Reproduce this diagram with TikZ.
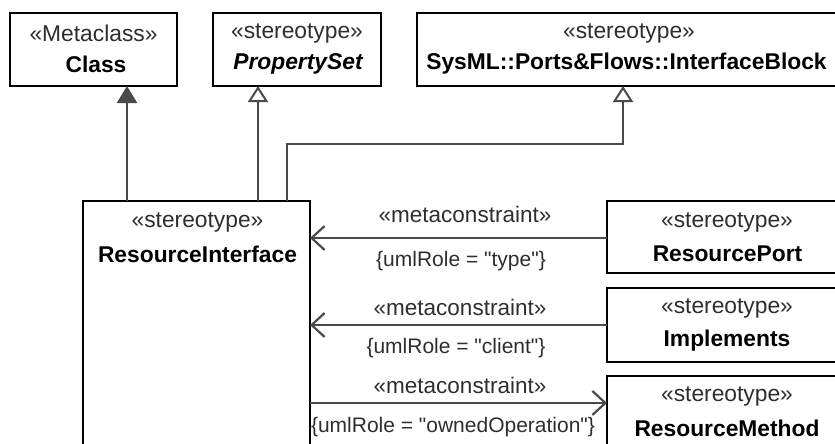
\documentclass[tikz,border=0pt]{standalone}
\usepackage{fontspec}
\setmainfont{Liberation Sans}[Ligatures=TeXOff]
\usetikzlibrary{arrows.meta}
\definecolor{lin}{HTML}{4A4A4A}
\definecolor{txt}{HTML}{2E2E2E}
\begin{document}
\begin{tikzpicture}[x=1pt,y=-1pt,
  box/.style={draw=black,line width=2.6pt,fill=white,inner sep=0pt,outer sep=0pt,anchor=north west},
  st/.style={text=txt,font=\fontsize{22.8}{26}\selectfont,inner sep=0pt},
  nm/.style={text=black,font=\fontsize{22.8}{26}\selectfont\bfseries,inner sep=0pt},
  conn/.style={draw=lin,line width=2.4pt},
  gen/.style={conn,-{Triangle[open,length=16pt,width=20pt,line width=2pt]}},
  inh/.style={conn,-{Triangle[length=17pt,width=20pt]}},
  dep/.style={conn,-{Straight Barb[length=13pt,width=24pt,line width=2.2pt]}},
  lbl/.style={text=txt,font=\fontsize{21}{25}\selectfont,inner sep=0pt},
  mc/.style={text=txt,font=\fontsize{22.5}{25}\selectfont,inner sep=0pt}]
\useasboundingbox (0,0) rectangle (835,444);
% boxes
\node[box,minimum width=167pt,minimum height=73pt] (cls) at (10,13) {};
\node[box,minimum width=168pt,minimum height=73pt] (ps) at (213,13) {};
\node[box,minimum width=421pt,minimum height=73pt] (ib) at (417,13) {};
\node[box,minimum width=227pt,minimum height=260pt] (ri) at (83,201) {};
\node[box,minimum width=241pt,minimum height=72pt] (rp) at (607,201) {};
\node[box,minimum width=241pt,minimum height=74pt] (im) at (607,288) {};
\node[box,minimum width=241pt,minimum height=80pt] (rm) at (607,376) {};
% texts
\node[st] (t1) at (93.5,33) {«Metaclass»};
\node[nm] (t2) at (96,64) {Class};
\node[st] (t3) at (297,33) {«stereotype»};
\node[nm,font=\fontsize{22.8}{26}\selectfont\bfseries\itshape] (t4) at (298,64) {PropertySet};
\node[st] (t5) at (629,33) {«stereotype»};
\node[nm] (t6) at (626.5,64) {SysML::Ports\&Flows::InterfaceBlock};
\node[st] (t7) at (197.5,222) {«stereotype»};
\node[nm] (t8) at (197.5,254) {ResourceInterface};
\node[st] (t9) at (727,222) {«stereotype»};
\node[nm] (t10) at (727.5,254) {ResourcePort};
\node[st] (t11) at (727,308) {«stereotype»};
\node[nm] (t12) at (727,341) {Implements};
\node[st] (t13) at (727,396) {«stereotype»};
\node[nm] (t14) at (727,428) {ResourceMethod};
% generalizations
\coordinate (a1) at (127,201);
\draw[inh] (a1) -- (a1 |- cls.south);
\coordinate (a2) at (258,201);
\draw[gen] (a2) -- (a2 |- ps.south);
\coordinate (a3) at (287,201);
\coordinate (a4) at (623,86);
\draw[gen] (a3) |- (623,144) -- (a4);
% metaconstraints
\coordinate (b0) at (607,238);
\draw[dep] (b0) -- (b0 -| ri.east);
\coordinate (b1) at (607,325);
\draw[dep] (b1) -- (b1 -| ri.east);
\coordinate (c1) at (310,403);
\draw[dep] (c1) -- (c1 -| rm.west);
% labels
\node[mc] (l1) at (465,214) {«metaconstraint»};
\node[lbl] (l2) at (461,261) {\{umlRole = "type"\}};
\node[mc] (l3) at (460,307) {«metaconstraint»};
\node[lbl] (l4) at (456,348) {\{umlRole = "client"\}};
\node[mc] (l5) at (460,385) {«metaconstraint»};
\node[lbl] (l6) at (453,427) {\{umlRole = "ownedOperation"\}};
\end{tikzpicture}
\end{document}
